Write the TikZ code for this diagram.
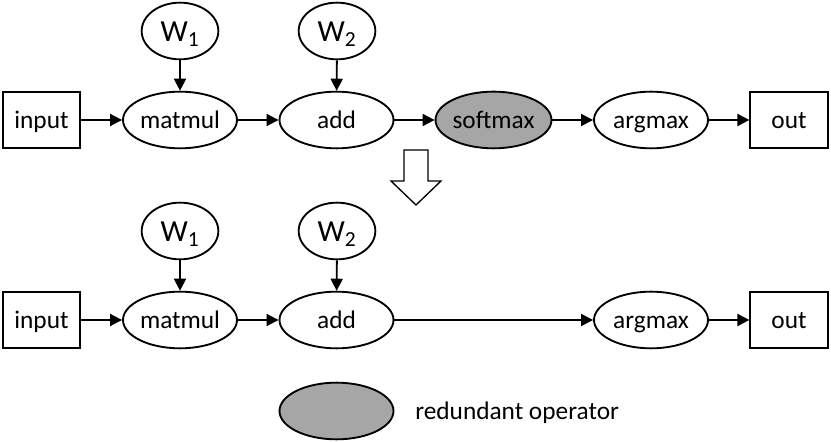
\documentclass[tikz,border=0pt]{standalone}
\usepackage{fontspec}
\setmainfont{Carlito}
\usepackage{xcolor}
\usetikzlibrary{arrows.meta, shapes.geometric, positioning}
\definecolor{redgray}{RGB}{166, 166, 166}

\begin{document}
\begin{tikzpicture}[x=0.75pt, y=0.75pt,
    op/.style={draw, ellipse, line width=1.4pt, minimum width=85.5pt, minimum height=42.5pt, inner sep=0pt, text height=13.5pt, text depth=0pt, font=\fontsize{19}{22}\selectfont},
    weight/.style={draw, ellipse, line width=1.4pt, minimum width=57.5pt, minimum height=42.5pt, inner sep=0pt, text height=16.5pt, text depth=0pt, font=\fontsize{23}{26}\selectfont},
    io/.style={draw, rectangle, line width=1.4pt, minimum width=58pt, minimum height=42.5pt, inner sep=0pt, text height=13.5pt, text depth=0pt, font=\fontsize{19}{22}\selectfont},
    redundant/.style={op, fill=redgray},
    flow/.style={-{Triangle[length=9pt, width=9pt]}, line width=1.4pt}]
    \useasboundingbox (0,0) rectangle (831,442);

    % before
    \node[io] (in1) at (41.5,322) {input};
    \node[op] (mm1) at (180,322) {matmul};
    \node[op] (add1) at (336.5,322) {add};
    \node[redundant] (sm1) at (493.5,322) {softmax};
    \node[op] (am1) at (651,322) {argmax};
    \node[io] (out1) at (789,322) {out};
    \node[weight] (wa1) at (180,411) {W\textsubscript{1}};
    \node[weight] (wb1) at (337,411) {W\textsubscript{2}};

    \draw[flow] (in1) -- (mm1);
    \draw[flow] (mm1) -- (add1);
    \draw[flow] (add1) -- (sm1);
    \draw[flow] (sm1) -- (am1);
    \draw[flow] (am1) -- (out1);
    \draw[flow] (wa1) -- (mm1);
    \draw[flow] (wb1) -- (add1);

    % block arrow
    \draw[line width=1pt, fill=white] (404,292) -- (428,292) -- (428,261) -- (441,261)
        -- (416,237) -- (391,261) -- (404,261) -- cycle;

    % after
    \node[io] (in2) at (41.5,122) {input};
    \node[op] (mm2) at (180,122) {matmul};
    \node[op] (add2) at (336.5,122) {add};
    \node[op] (am2) at (651,122) {argmax};
    \node[io] (out2) at (789,122) {out};
    \node[weight] (wa2) at (180,211) {W\textsubscript{1}};
    \node[weight] (wb2) at (337,211) {W\textsubscript{2}};

    \draw[flow] (in2) -- (mm2);
    \draw[flow] (mm2) -- (add2);
    \draw[flow] (add2) -- (am2);
    \draw[flow] (am2) -- (out2);
    \draw[flow] (wa2) -- (mm2);
    \draw[flow] (wb2) -- (add2);

    % legend
    \node[redundant] (key) at (336.5,31) {};
    \node[anchor=west, inner sep=0pt, text height=13.5pt, text depth=0pt, font=\fontsize{19}{22}\selectfont] (keytext) at (415,31) {redundant operator};
\end{tikzpicture}
\end{document}
